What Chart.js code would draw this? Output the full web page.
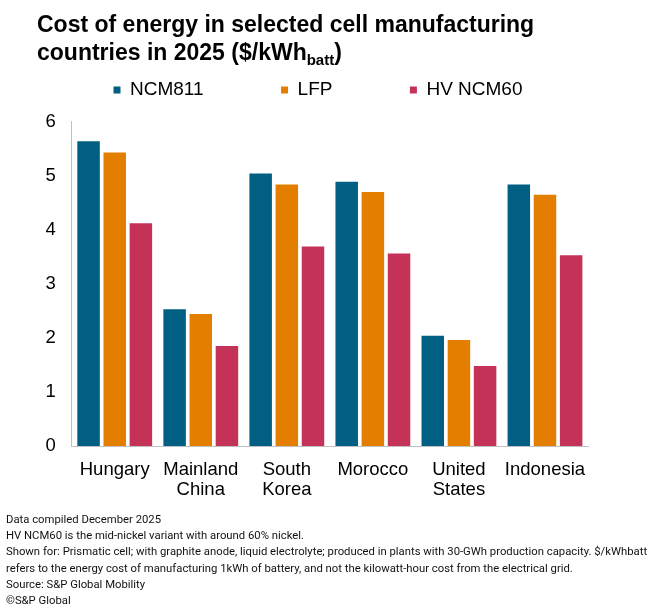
<!DOCTYPE html>
<html>
<head>
<meta charset="utf-8">
<script src="https://cdn.jsdelivr.net/npm/chart.js@4/dist/chart.umd.min.js"></script>
<style>
  html, body { margin: 0; padding: 0; background: #ffffff; }
  body { width: 658px; height: 612px; position: relative; overflow: hidden; }
  #c { position: absolute; left: 0; top: 0; }
  #title {
    position: absolute; left: 37px; top: 9.5px;
    font-family: "Liberation Sans", Arial, sans-serif; font-weight: bold;
    font-size: 23px; line-height: 28px; color: #000; white-space: nowrap;
  }
  #title .sub { font-size: 15px; position: relative; top: 5px; }
  #footer {
    position: absolute; left: 6px; top: 511.8px;
    font-family: Roboto, "Liberation Sans", Arial, sans-serif;
    font-size: 11px; line-height: 16.3px; color: #111; white-space: nowrap;
  }
  #footer div { white-space: nowrap; }
</style>
</head>
<body>
<canvas id="c" width="658" height="612"></canvas>
<div id="title">Cost of energy in selected cell manufacturing<br>countries in 2025 ($/kWh<span class="sub">batt</span>)</div>
<div id="footer">
  <div>Data compiled December 2025</div>
  <div>HV NCM60 is the mid-nickel variant with around 60% nickel.</div>
  <div id="longline"><span>Shown for: Prismatic cell; with graphite anode, liquid electrolyte; produced in plants with 30-GWh production capacity. $/kWhbatt</span></div>
  <div>refers to the energy cost of manufacturing 1kWh of battery, and not the kilowatt-hour cost from the electrical grid.</div>
  <div>Source: S&amp;P Global Mobility</div>
  <div>©S&amp;P Global</div>
</div>
<script>
// ---- data ----
const categories = ['Hungary', ['Mainland', 'China'], ['South', 'Korea'], 'Morocco', ['United', 'States'], 'Indonesia'];
const seriesNames = ['NCM811', 'LFP', 'HV NCM60'];
const ncm811 = [5.64, 2.53, 5.04, 4.89, 2.04, 4.84];
const lfp = [5.43, 2.44, 4.84, 4.70, 1.96, 4.65];
const hvNcm60 = [4.12, 1.85, 3.69, 3.56, 1.48, 3.53];
const yTicks = [0, 1, 2, 3, 4, 5, 6];

// ---- fit footer font to reference width ----
(function () {
  const span = document.querySelector('#longline span');
  const w = span.getBoundingClientRect().width;
  const target = 641;
  const fs = 11 * target / w;
  document.getElementById('footer').style.fontSize = fs.toFixed(2) + 'px';
})();

// ---- layout spacer boxes ----
function makeSpacer(position, size) {
  return {
    position: position, weight: 0, fullSize: false, options: {},
    left: 0, top: 0, right: 0, bottom: 0, width: 0, height: 0,
    isHorizontal() { return position === 'top' || position === 'bottom'; },
    update(maxWidth, maxHeight) {
      if (this.isHorizontal()) { this.width = maxWidth; this.height = size; }
      else { this.width = size; this.height = maxHeight; }
    },
    draw() {}
  };
}
const spacerPlugin = {
  id: 'spacers',
  beforeInit(chart) {
    Chart.layouts.addBox(chart, makeSpacer('top', 12.2));
    Chart.layouts.addBox(chart, makeSpacer('right', 30));
  }
};

const font = "'Liberation Sans', Arial, sans-serif";
const colors = ['#005f82', '#e47e00', '#c53257'];

new Chart(document.getElementById('c'), {
  type: 'bar',
  data: {
    labels: categories,
    datasets: [
      { label: seriesNames[0], data: ncm811, backgroundColor: colors[0] },
      { label: seriesNames[1], data: lfp, backgroundColor: colors[1] },
      { label: seriesNames[2], data: hvNcm60, backgroundColor: colors[2] }
    ]
  },
  options: {
    responsive: false,
    animation: false,
    devicePixelRatio: 1,
    datasets: { bar: { categoryPercentage: 0.912, barPercentage: 0.86 } },
    layout: { padding: { left: 36, right: 40, top: 3, bottom: 112 } },
    plugins: {
      title: { display: false },
      tooltip: { enabled: false },
      legend: {
        display: true,
        position: 'top',
        align: 'start',
        labels: {
          boxWidth: 7, boxHeight: 7, padding: 77.5,
          color: '#000',
          font: { family: font, size: 19 }
        }
      }
    },
    scales: {
      x: {
        grid: { display: false, drawTicks: false },
        border: { display: true, color: '#c0c0c0', width: 1 },
        ticks: {
          color: '#000', padding: 13.8, maxRotation: 0, autoSkip: false,
          font: { family: font, size: 18.5, lineHeight: 1.1 }
        },
        afterFit(s) { s.height = 54; }
      },
      y: {
        min: yTicks[0], max: yTicks[yTicks.length - 1],
        grid: { display: false, drawTicks: false },
        border: { display: true, color: '#c0c0c0', width: 1 },
        ticks: {
          stepSize: 1, color: '#000', padding: 16,
          font: { family: font, size: 18.5 },
          callback: (v) => yTicks.includes(v) ? String(v) : ''
        },
        afterFit(s) { s.width = 35.7; }
      }
    }
  },
  plugins: [spacerPlugin]
});
</script>
</body>
</html>
